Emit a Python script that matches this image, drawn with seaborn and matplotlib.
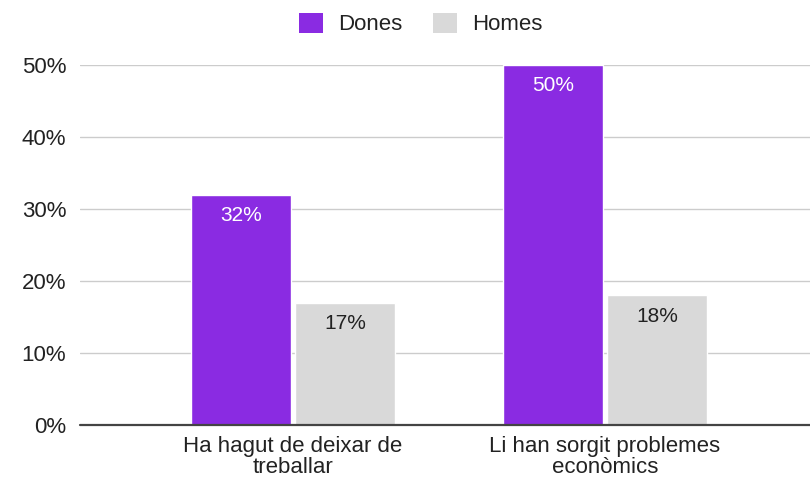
import matplotlib
matplotlib.use("Agg")
import matplotlib.pyplot as plt
import seaborn as sns
import pandas as pd

categories = ["Ha hagut de deixar de\ntreballar", "Li han sorgit problemes\neconòmics"]
series_names = ["Dones", "Homes"]
dones = [32, 50]
homes = [17, 18]
yticks = [0, 10, 20, 30, 40, 50]

colors = {"Dones": "#8a2be2", "Homes": "#d9d9d9"}
label_colors = {"Dones": "#ffffff", "Homes": "#222222"}

df = pd.DataFrame({
    "cat": categories * 2,
    "serie": [series_names[0]] * 2 + [series_names[1]] * 2,
    "val": dones + homes,
})

sns.set_theme(style="white")
plt.rcParams["font.family"] = ["Liberation Sans", "DejaVu Sans"]

fig = plt.figure(figsize=(8.1, 4.79), dpi=100)
ax = fig.add_axes([80 / 810, 1 - 425 / 479, 730 / 810, 360 / 479])

sns.barplot(data=df, x="cat", y="val", hue="serie", palette=colors,
            width=0.665, gap=0.04, ax=ax, legend=False, saturation=1)

ax.set_xlim(-0.683, 1.657)
ax.set_ylim(0, 50)
ax.set_yticks(yticks)
ax.set_yticklabels([f"{t}%" for t in yticks], fontsize=16, color="#222222")
ax.tick_params(axis="y", length=0, pad=10)
ax.tick_params(axis="x", length=0, pad=8, labelsize=16, labelcolor="#222222")
for lbl in ax.get_xticklabels():
    lbl.set_linespacing(1.0)
ax.set_xlabel("")
ax.set_ylabel("")
for s in ax.spines.values():
    s.set_visible(False)
ax.set_axisbelow(True)
ax.yaxis.grid(True, color="#cccccc", linewidth=1)
ax.axhline(0, color="#444444", linewidth=1.6, zorder=5, clip_on=False)

for container, name in zip(ax.containers, series_names):
    for bar in container:
        h = bar.get_height()
        ax.annotate(f"{h:.0f}%", (bar.get_x() + bar.get_width() / 2, h),
                    xytext=(0, -15), textcoords="offset points",
                    ha="center", va="center", fontsize=15,
                    color=label_colors[name], zorder=6)

handles = [plt.Rectangle((0, 0), 1, 1, facecolor=colors[n], edgecolor="none") for n in series_names]
fig.legend(handles, series_names, loc="center", bbox_to_anchor=(421 / 810, 1 - 24 / 479),
           ncol=2, frameon=False, fontsize=16, handlelength=1.05, handleheight=1.05,
           handletextpad=0.7, columnspacing=1.4, labelcolor="#222222")

fig.savefig("out.png", dpi=100, facecolor="white")
